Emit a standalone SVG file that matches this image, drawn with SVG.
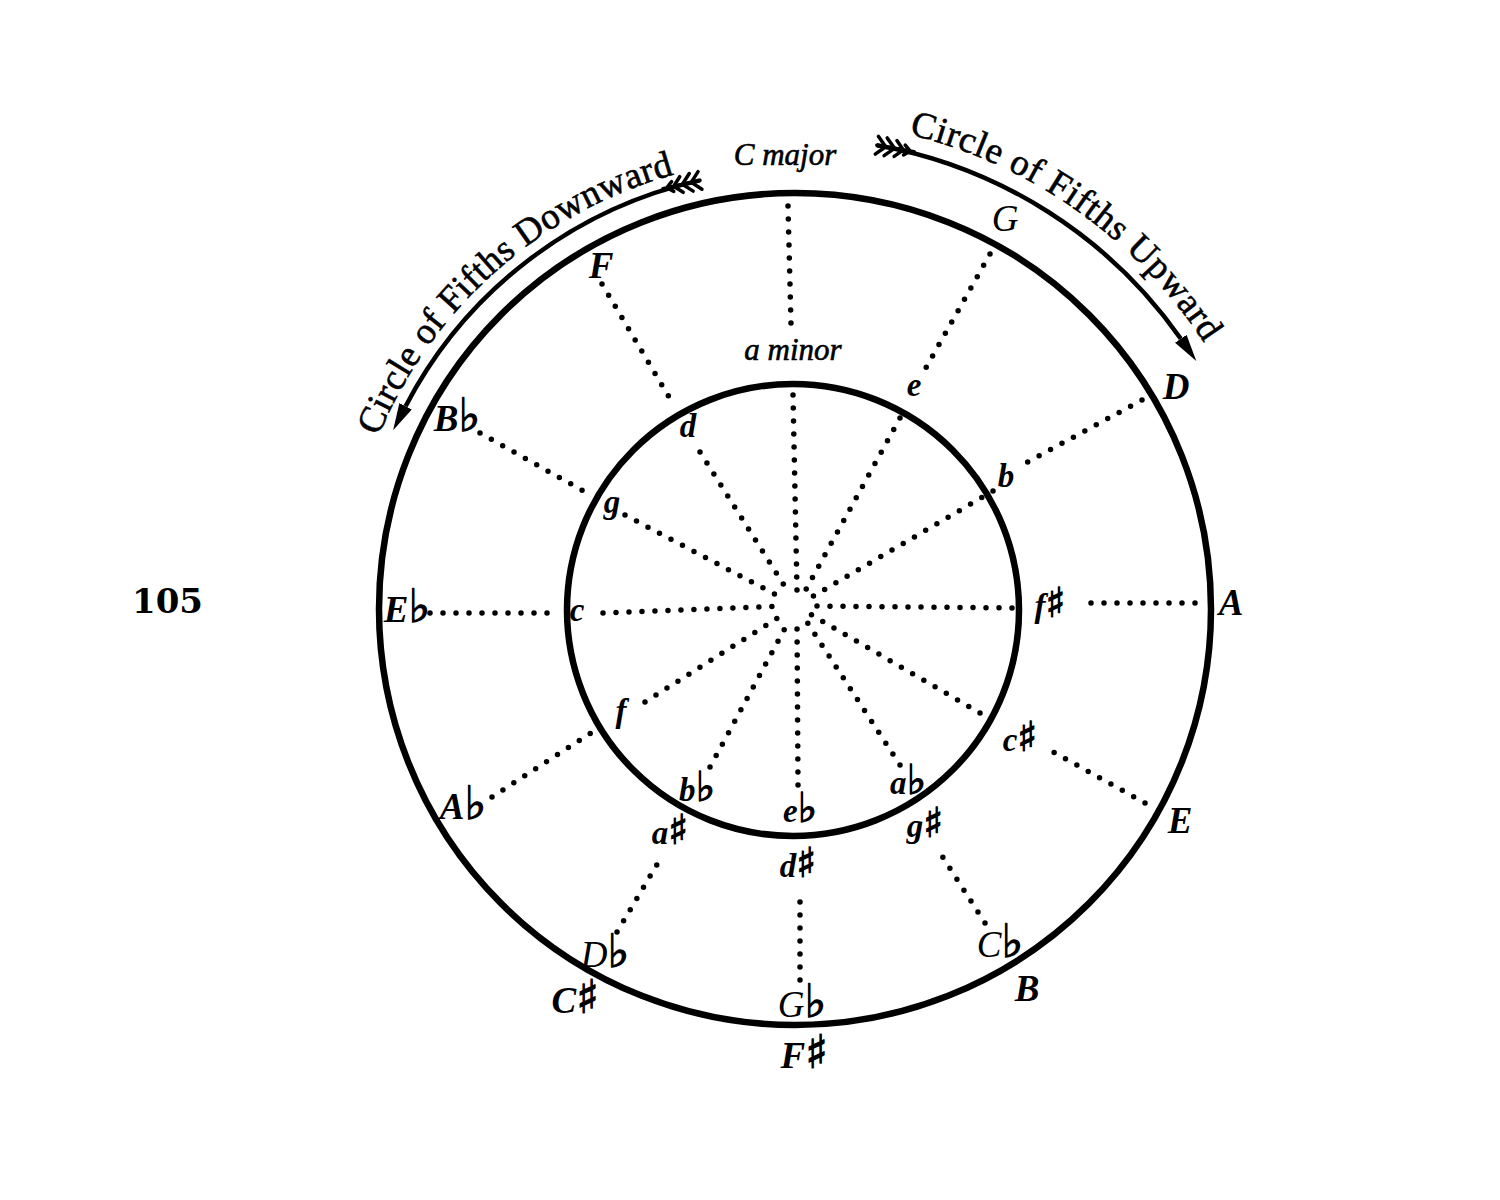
<svg xmlns="http://www.w3.org/2000/svg" width="1500" height="1200" viewBox="0 0 1500 1200">
<style>
  .ring { fill: none; stroke: #000; stroke-width: 6.5; }
  .dots { fill: none; stroke: #000; stroke-width: 5.5; stroke-linecap: round; stroke-dasharray: 0 13; }
  .arc { fill: none; stroke: #000; stroke-width: 4.5; }
  .fl { fill: none; stroke: #000; stroke-width: 3.5; stroke-linecap: round; }
  text { font-family: "Liberation Serif", "DejaVu Serif", "DejaVu Sans", serif; fill: #000; }
  .acc { font-family: "DejaVu Sans", sans-serif; font-style: normal; font-weight: normal; font-size: 125%; stroke: #000; stroke-width: 1.2; }
  .ko { font-size: 37px; font-style: italic; font-weight: bold; text-anchor: middle; }
  .kr { font-size: 37px; font-style: italic; font-weight: normal; text-anchor: middle; }
  .ki { font-size: 33px; font-style: italic; font-weight: bold; text-anchor: middle; }
  .cap { font-size: 31px; font-style: italic; text-anchor: middle; stroke: #000; stroke-width: 0.6; }
  .arct { font-size: 37px; stroke: #000; stroke-width: 0.6; }
  .num { font-family: "DejaVu Serif", serif; font-size: 34px; font-weight: bold; }
</style>
<defs>
  <marker id="ah" markerUnits="userSpaceOnUse" markerWidth="30" markerHeight="16" refX="0" refY="7" orient="auto">
    <path d="M0,0 L27,7 L0,14 Z" fill="#000"/>
  </marker>
  <g id="fletch">
    <path class="fl" d="M0,0 L38,0 M9,0 L0,-9 M9,0 L0,9 M18,0 L9,-9 M18,0 L9,9 M27,0 L19,-8 M27,0 L19,8 M34,0 L28,-5 M34,0 L28,5"/>
  </g>
  <path id="tpR" d="M908.9,134.5 A488,488 0 0 1 1204.3,343.2"/>
  <path id="tpL" d="M378.3,436.4 A451,451 0 0 1 674.5,174.4"/>
</defs>
<rect width="1500" height="1200" fill="#fff"/>

<g id="rings">
  <circle class="ring" cx="795" cy="609" r="416"/>
  <circle class="ring" cx="793" cy="610" r="226"/>
</g>

<g id="connectors">
  <path class="dots" d="M788,206 L791,324"/>
  <path class="dots" d="M793,395 L797,590"/>
  <path class="dots" d="M990,254 L923,373"/>
  <path class="dots" d="M900,418 L804,593"/>
  <path class="dots" d="M1142,400 L1022,465"/>
  <path class="dots" d="M993,491 L810,598"/>
  <path class="dots" d="M1195,603 L1089,603"/>
  <path class="dots" d="M1012,608 L812,606"/>
  <path class="dots" d="M1145,803 L1048,749"/>
  <path class="dots" d="M980,713 L810,614"/>
  <path class="dots" d="M985,923 L942,856"/>
  <path class="dots" d="M900,765 L805,619"/>
  <path class="dots" d="M800,980 L800,892"/>
  <path class="dots" d="M798,785 L797,621"/>
  <path class="dots" d="M617,932 L662,856"/>
  <path class="dots" d="M710,767 L790,619"/>
  <path class="dots" d="M492,797 L597,729"/>
  <path class="dots" d="M645,702 L784,614"/>
  <path class="dots" d="M430,613 L558,613"/>
  <path class="dots" d="M603,613 L782,606"/>
  <path class="dots" d="M480,433 L587,493"/>
  <path class="dots" d="M625,515 L784,599"/>
  <path class="dots" d="M602,284 L672,402"/>
  <path class="dots" d="M700,452 L789,593"/>
</g>

<g id="arrow-upward">
  <path class="arc" d="M876.8,145.2 A471,471 0 0 1 1180.8,338.8" marker-end="url(#ah)"/>
  <use href="#fletch" transform="translate(876.8,145.2) rotate(10)"/>
  <text class="arct"><textPath href="#tpR" textLength="370" lengthAdjust="spacing">Circle of Fifths Upward</textPath></text>
</g>

<g id="arrow-downward">
  <path class="arc" d="M700,180.4 A439,439 0 0 0 405.6,406.3" marker-end="url(#ah)"/>
  <use href="#fletch" transform="translate(700,180.4) rotate(167.5)"/>
  <text class="arct"><textPath href="#tpL" textLength="409" lengthAdjust="spacing">Circle of Fifths Downward</textPath></text>
</g>

<g id="outer-keys">
  <text class="cap" x="785" y="165">C major</text>
  <text class="kr" x="1005" y="231">G</text>
  <text class="ko" x="1176" y="399">D</text>
  <text class="ko" x="1231" y="615">A</text>
  <text class="ko" x="1180" y="833">E</text>
  <text class="ko" x="1027" y="1001">B</text>
  <text class="kr" x="1000" y="957">C<tspan class="acc">♭</tspan></text>
  <text class="ko" x="804" y="1068">F<tspan class="acc">♯</tspan></text>
  <text class="kr" x="802" y="1017">G<tspan class="acc">♭</tspan></text>
  <text class="ko" x="575" y="1013">C<tspan class="acc">♯</tspan></text>
  <text class="kr" x="605" y="967">D<tspan class="acc">♭</tspan></text>
  <text class="ko" x="463" y="819">A<tspan class="acc">♭</tspan></text>
  <text class="ko" x="407" y="622">E<tspan class="acc">♭</tspan></text>
  <text class="ko" x="457" y="431">B<tspan class="acc">♭</tspan></text>
  <text class="ko" x="601" y="278">F</text>
</g>

<g id="inner-keys">
  <text class="cap" x="793" y="360">a minor</text>
  <text class="ki" x="914" y="396">e</text>
  <text class="ki" x="1006" y="487">b</text>
  <text class="ki" x="1050" y="617">f<tspan class="acc">♯</tspan></text>
  <text class="ki" x="1020" y="751">c<tspan class="acc">♯</tspan></text>
  <text class="ki" x="908" y="794">a<tspan class="acc">♭</tspan></text>
  <text class="ki" x="925" y="837">g<tspan class="acc">♯</tspan></text>
  <text class="ki" x="800" y="822">e<tspan class="acc">♭</tspan></text>
  <text class="ki" x="798" y="877">d<tspan class="acc">♯</tspan></text>
  <text class="ki" x="697" y="801">b<tspan class="acc">♭</tspan></text>
  <text class="ki" x="670" y="844">a<tspan class="acc">♯</tspan></text>
  <text class="ki" x="621" y="722">f</text>
  <text class="ki" x="577" y="621">c</text>
  <text class="ki" x="612" y="513">g</text>
  <text class="ki" x="688" y="437">d</text>
</g>

<g id="page-number">
  <text class="num" x="132" y="613">105</text>
</g>
</svg>
